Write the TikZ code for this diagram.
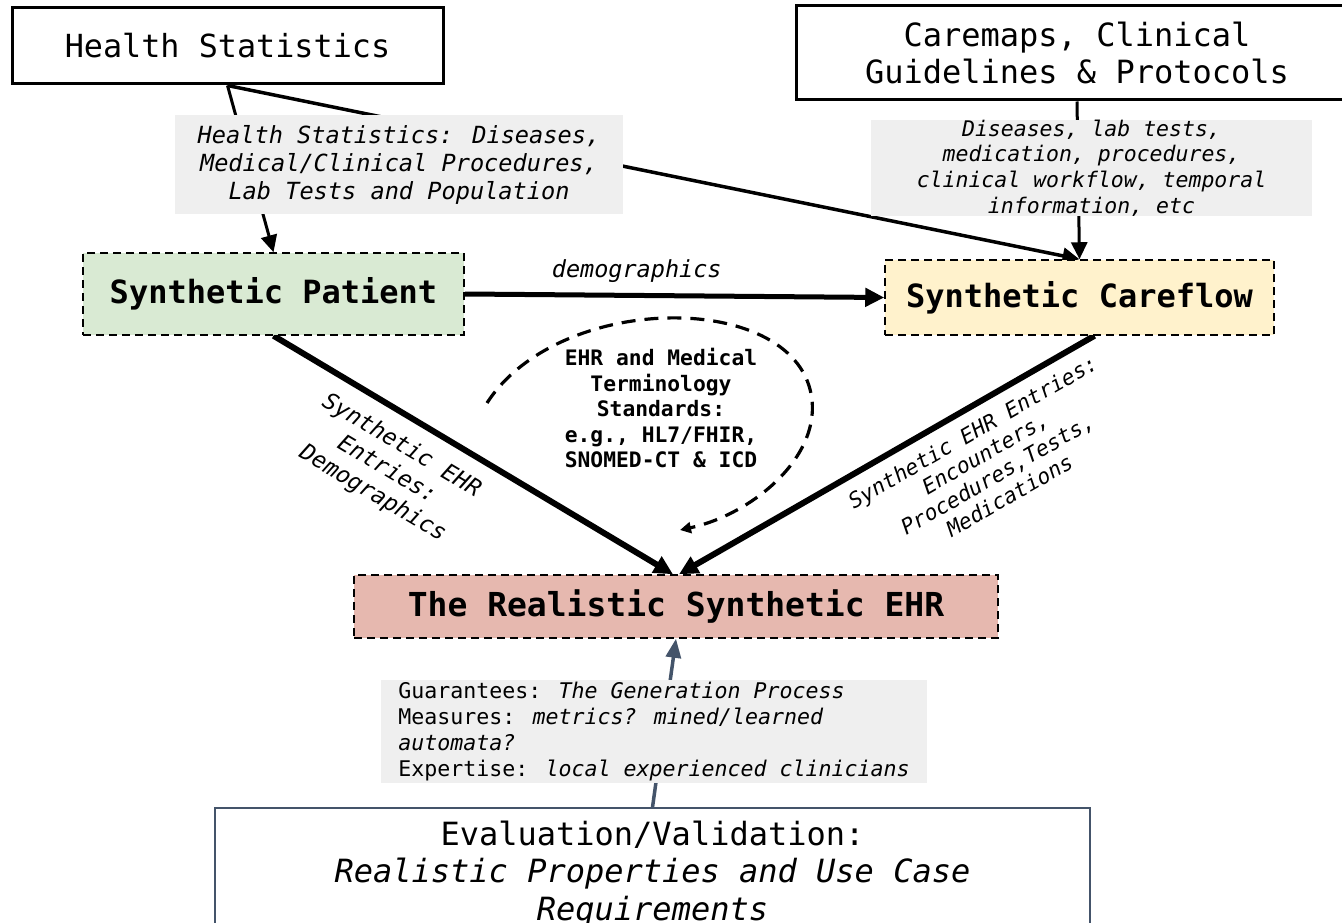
\documentclass[tikz,border=0pt]{standalone}
\usepackage{fontspec}
\setmainfont{DejaVu Sans Mono}[WordSpace={1,0,0}]
\usetikzlibrary{arrows.meta,calc}
\pgfdeclarelayer{bg}
\pgfsetlayers{bg,main}
\definecolor{patgreen}{HTML}{D9EAD3}
\definecolor{flowyellow}{HTML}{FFF2CC}
\definecolor{ehrpink}{HTML}{E6B8AF}
\definecolor{notegray}{HTML}{EFEFEF}
\definecolor{slate}{HTML}{44546A}
\newcommand\fsz[2]{\fontsize{#1}{#2}\selectfont}

\begin{document}
\begin{tikzpicture}[x=1pt,y=1pt,
  srcbox/.style={draw, line width=3pt, inner sep=0pt, align=center},
  genbox/.style={draw, line width=1.5pt, dash pattern=on 8pt off 5pt, inner sep=0pt, align=center},
  note/.style={fill=notegray, inner sep=0pt, align=center},
  flow/.style={line width=#1, -{Triangle[length=17pt,width=16pt]}},
  bigflow/.style={line width=#1, -{Triangle[length=19pt,width=18pt]}},
  edgelabel/.style={inner sep=0pt, align=center}
]
\useasboundingbox (0,0) rectangle (1342,-923);
\clip (0,0) rectangle (1342,-923);

% source boxes
\node[srcbox, minimum width=431, minimum height=76, font=\fsz{31.8}{38}] (hs) at (227.5,-46)
  {Health Statistics};
\node[srcbox, minimum width=562, minimum height=94, font=\fsz{32}{37}] (cm) at (1077,-53)
  {Caremaps, Clinical\\Guidelines \& Protocols};

% grey annotation boxes
\node[note, minimum width=448, minimum height=98, font=\fsz{23.6}{28}\itshape] (lab1) at (399,-164.5)
  {Health Statistics: Diseases,\\Medical/Clinical Procedures,\\Lab Tests and Population};
\node[note, minimum width=441, minimum height=93, font=\fsz{21.5}{25.7}\itshape] (lab2) at (1091.5,-168)
  {Diseases, lab tests,\\medication, procedures,\\clinical workflow, temporal\\information, etc};

% generated artefacts
\node[genbox, fill=patgreen, minimum width=381, minimum height=82, font=\fsz{32}{38}\bfseries] (pat) at (273.5,-294)
  {Synthetic Patient};
\node[genbox, fill=flowyellow, minimum width=389, minimum height=75, font=\fsz{32}{38}\bfseries] (cf) at (1079.5,-297.5)
  {Synthetic Careflow};
\node[genbox, fill=ehrpink, minimum width=644, minimum height=63, font=\fsz{33}{38}\bfseries] (ehr) at (676,-606.5)
  {The Realistic Synthetic EHR};

% standards note
\node[inner sep=0pt, align=center, font=\fsz{21.3}{25.5}\bfseries] (std) at (661,-408)
  {EHR and Medical\\Terminology\\Standards:\\e.g., HL7/FHIR,\\SNOMED-CT \& ICD};

% evaluation
\node[note, minimum width=546, minimum height=103, align=left, font=\fsz{21.6}{25.7}] (lab3) at (654,-731.5)
  {Guarantees: {\itshape The Generation Process}\\
   Measures: {\itshape metrics? mined/learned}\\
   {\itshape automata?}\\
   Expertise: {\itshape local experienced clinicians}};
\node[draw=slate, line width=1.5pt, inner sep=0pt, align=center, minimum width=875, minimum height=132, font=\fsz{32}{37.5}] (ev) at (652.5,-874)
  {Evaluation/Validation:\\{\itshape Realistic Properties and Use Case}\\{\itshape Requirements}};

% rotated edge labels
\node[edgelabel, font=\fsz{23}{28}\itshape, rotate=-30.8] (pdemo) at (387,-470)
  {Synthetic EHR\\Entries:\\Demographics};
\node[edgelabel, font=\fsz{21.4}{24.5}\itshape, rotate=30] (fentries) at (991,-463.5)
  {Synthetic EHR Entries:\\Encounters,\\Procedures,Tests,\\Medications};

\coordinate (cs) at (487,-403);
\coordinate (ce) at (680,-530);

\begin{pgfonlayer}{bg}
  \draw[flow=3pt] (hs.south) -- (pat.north);
  \draw[flow=3.5pt] (hs.south) -- (cf.north);
  \draw[flow=3pt] (cm.south) -- (cf.north);
  \draw[bigflow=5pt] (pat.east) -- node[pos=0.41, above=10pt, inner sep=0pt, font=\fsz{23.5}{28}\itshape] (demolab) {demographics} (cf.west);
  \draw[bigflow=6pt] (pat.south) -- ([xshift=-3pt]ehr.north);
  \draw[bigflow=6pt] ([xshift=15pt]cf.south) -- ([xshift=3pt]ehr.north);
  \draw[slate, line width=3.5pt, -{Triangle[length=19pt,width=15pt]}] (ev.north) -- (ehr.south);
  \draw[line width=3.2pt, dash pattern=on 14pt off 9pt, -{Triangle[length=11pt,width=11pt]}]
    (cs) .. controls (560,-290) and (800,-290) .. (812,-400)
         .. controls (818.5,-460) and (750,-515) .. (ce);
\end{pgfonlayer}
\end{tikzpicture}
\end{document}
